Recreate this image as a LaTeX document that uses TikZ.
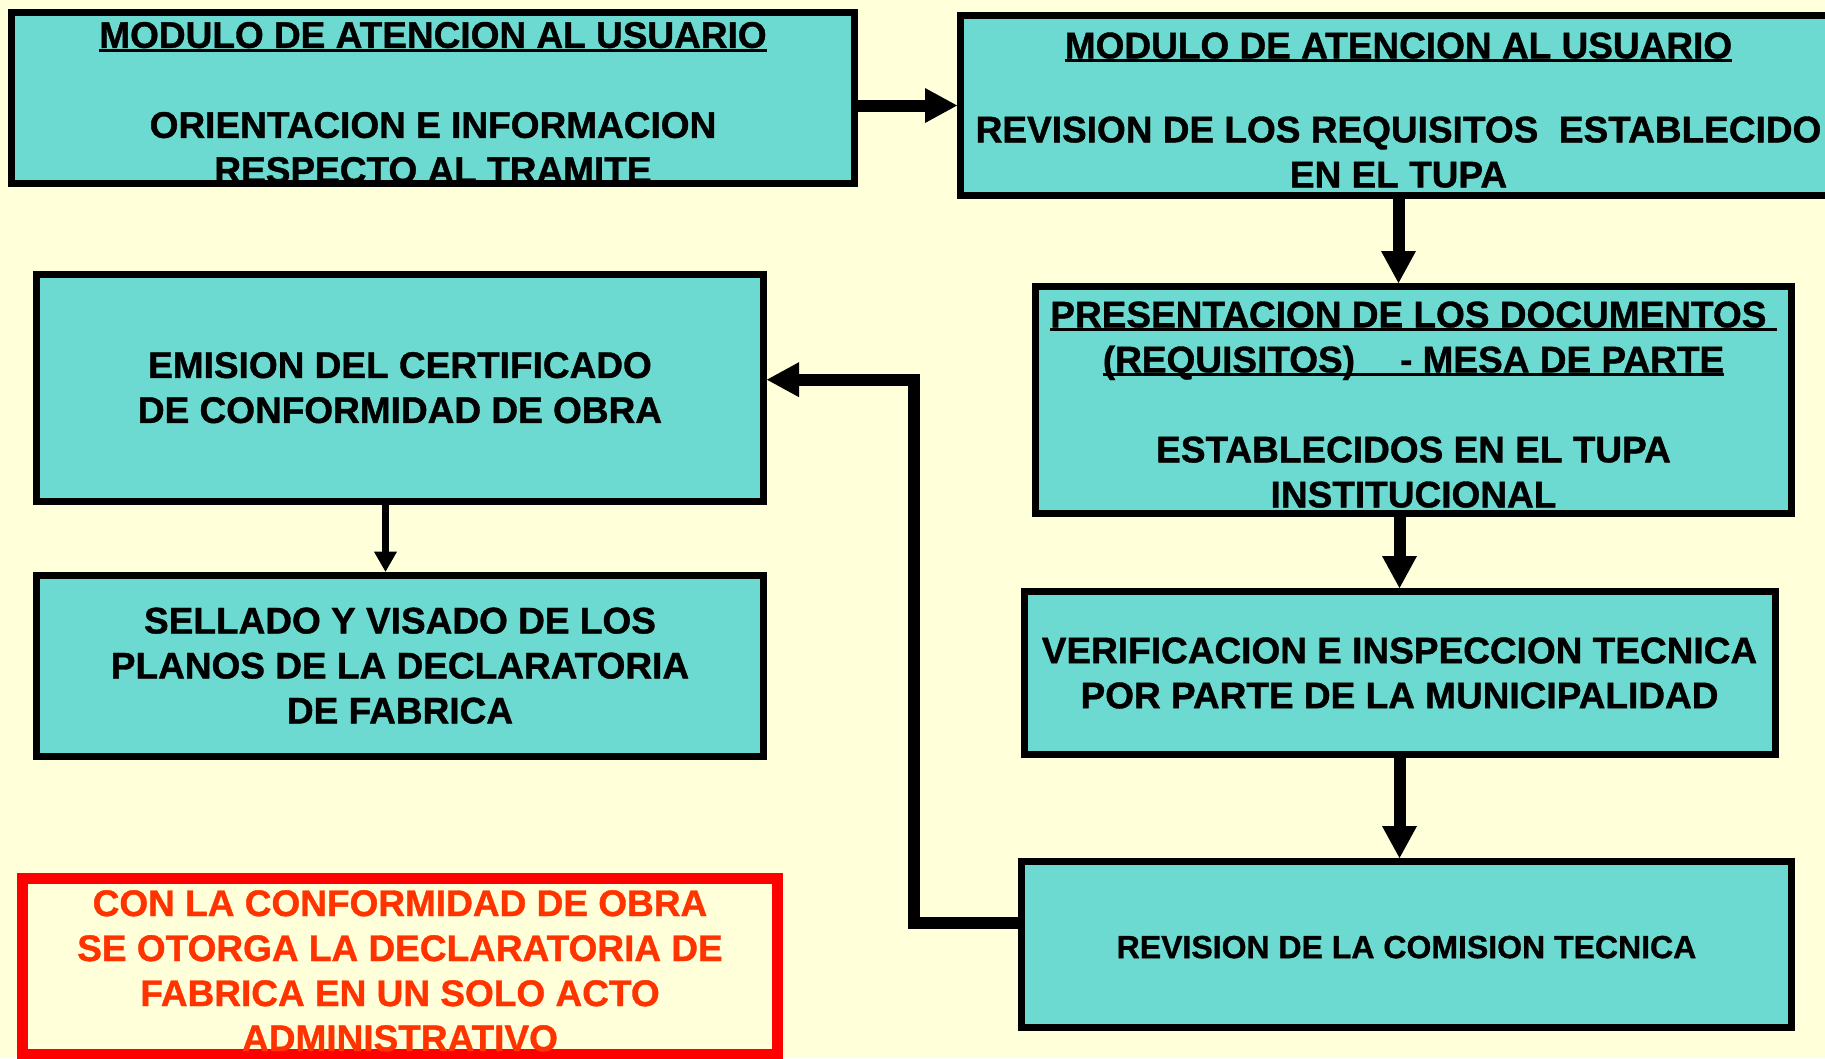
\documentclass[tikz,border=0pt]{standalone}
\usepackage{fontspec}
\setmainfont{Liberation Sans}[BoldFeatures={FakeBold=1}]
\usetikzlibrary{arrows.meta,positioning}

\definecolor{fondo}{RGB}{255,255,217}
\definecolor{turquesa}{RGB}{108,218,208}
\definecolor{rojo}{RGB}{255,0,0}
\definecolor{naranja}{RGB}{255,51,0}
\newcommand{\subrayar}[1]{\setbox0=\hbox{#1}\rlap{\rule[-4pt]{\wd0}{3pt}}\box0}
\newcommand{\alto}{\rule{0pt}{35pt}}

\begin{document}
\begin{tikzpicture}[x=1pt,y=-1pt,auto,
    font=\fontsize{37pt}{45pt}\selectfont\bfseries,
    line/.style={draw, -{Triangle[length=32pt,width=35pt,line width=0pt]}, line width=12pt},
    thinline/.style={draw, -{Triangle[length=20pt,width=23pt,line width=0pt]}, line width=7pt},
    stage/.style={draw, fill=turquesa, line width=7pt, inner sep=0pt, align=center},
    note/.style={draw=rojo, fill=fondo, text=naranja, line width=11pt, inner sep=0pt, align=center},
    ]
    \fill [fondo] (0,0) rectangle (1825,1058);
    \useasboundingbox (0,0) rectangle (1825,1058);

    % Place nodes
    \node [stage, minimum width=843pt, minimum height=167pt] (mod) at (433,98)
      {\alto\subrayar{MODULO DE ATENCION AL USUARIO}\\[45pt] ORIENTACION E INFORMACION\\ RESPECTO AL TRAMITE};
    \node [stage, right=99pt of mod, yshift=-7.5pt, minimum width=876pt, minimum height=180pt] (rev)
      {\alto\subrayar{MODULO DE ATENCION AL USUARIO}\\[39pt] REVISION DE LOS REQUISITOS\ \ ESTABLECIDO\\ EN EL TUPA};
    \node [stage, below=84pt of rev, xshift=15pt, minimum width=756pt, minimum height=227pt] (pre)
      {\alto\subrayar{PRESENTACION DE LOS DOCUMENTOS\ }\\ \subrayar{(REQUISITOS)\hspace{45pt}- MESA DE PARTE}\\[45pt]
       ESTABLECIDOS EN EL TUPA\\ INSTITUCIONAL};
    \node [stage, below=71pt of pre, xshift=-14pt, minimum width=751pt, minimum height=163pt] (ver)
      {VERIFICACION E INSPECCION TECNICA\\ POR PARTE DE LA MUNICIPALIDAD};
    \node [stage, below=100pt of ver, xshift=7pt, minimum width=770pt, minimum height=165.5pt,
      font=\fontsize{32pt}{38pt}\selectfont\bfseries] (com) {\rule{0pt}{28pt}REVISION DE LA COMISION TECNICA};
    \node [stage, below=84pt of mod, xshift=-33pt, minimum width=727pt, minimum height=227pt] (emi)
      {EMISION DEL CERTIFICADO\\ DE CONFORMIDAD DE OBRA};
    \node [stage, below=67pt of emi, minimum width=727pt, minimum height=181pt] (sel)
      {SELLADO Y VISADO DE LOS\\ PLANOS DE LA DECLARATORIA\\ DE FABRICA};
    \node [note, below=113pt of sel, minimum width=755pt, minimum height=176pt] (obs)
      {\alto CON LA CONFORMIDAD DE OBRA\\ SE OTORGA LA DECLARATORIA DE\\ FABRICA EN UN SOLO ACTO\\ ADMINISTRATIVO};

    % Draw edges
    \path [line] (rev.west -| mod.east) -- (rev.west);
    \path [line] (rev.south) -- (rev.south |- pre.north);
    \path [line] (ver.north |- pre.south) -- (ver.north);
    \path [line] (ver.south) -- (ver.south |- com.north);
    \path [line] ([yshift=21pt]com.west) -- ++(-104,0) |- ([yshift=8pt]emi.east);
    \path [thinline] ([xshift=-14.5pt]emi.south) -- ([xshift=-14.5pt]sel.north);
\end{tikzpicture}
\end{document}
